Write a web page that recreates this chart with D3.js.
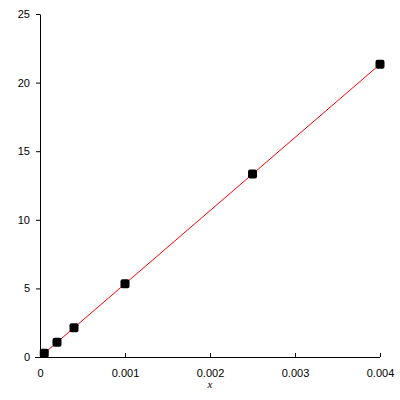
<!DOCTYPE html>
<html>
<head>
<meta charset="utf-8">
<script src="https://cdn.jsdelivr.net/npm/d3@7"></script>
<style>
  body { margin: 0; background: #fff; }
  text { font-family: "Liberation Sans", Arial, sans-serif; font-size: 11px; }
</style>
</head>
<body>
<div id="chart"></div>
<script>
// data points
var xValues = [0.00005, 0.0002, 0.0004, 0.001, 0.0025, 0.004];
var yValues = [0.267, 1.067, 2.133, 5.333, 13.333, 21.333];
// fitted line end points
var lineX = [0, 0.004];
var lineY = [0, 21.333];
var xTicks = [0, 0.001, 0.002, 0.003, 0.004];
var yTicks = [0, 5, 10, 15, 20, 25];

var width = 400, height = 400;

var svg = d3.select("#chart")
  .append("svg")
  .attr("width", width)
  .attr("height", height);

var x = d3.scaleLinear().domain([0, 0.004]).range([40, 380]);
var y = d3.scaleLinear().domain([0, 25]).range([357, 14]);

//x axis (ticks point up)
var xAxis = svg.append("g")
  .attr("transform", "translate(0," + y(0) + ")")
  .call(d3.axisBottom(x).tickValues(xTicks).tickSize(-4).tickSizeOuter(0)
    .tickFormat(function(d) { return d === 0 ? "0" : d3.format(".3f")(d); }));
xAxis.select(".domain").attr("d", "M35,0.5H380");
xAxis.selectAll("text").attr("y", 12).attr("fill", "#000");

//y axis
var yAxis = svg.append("g")
  .attr("transform", "translate(" + x(0) + ",0)")
  .call(d3.axisLeft(y).tickValues(yTicks).tickSize(4).tickSizeOuter(0));
yAxis.selectAll("text").attr("x", -10).attr("fill", "#000");

svg.selectAll(".domain, .tick line").attr("stroke", "#000");

//axis label
svg.append("text")
  .attr("x", (x(0) + x(0.004)) / 2)
  .attr("y", 388)
  .attr("text-anchor", "middle")
  .style("font-family", "'Liberation Serif', serif")
  .style("font-style", "italic")
  .text("x");

//fitted line
var pts = lineX.map(function(d, i) { return [d, lineY[i]]; });
svg.append("path")
  .datum(pts)
  .attr("fill", "none")
  .attr("stroke", "#ff0000")
  .attr("stroke-width", 1)
  .attr("d", d3.line()
    .x(function(d) { return x(d[0]); })
    .y(function(d) { return y(d[1]); }));

//points
svg.selectAll("rect.pt")
  .data(xValues)
  .enter()
  .append("rect")
  .attr("class", "pt")
  .attr("x", function(d) { return x(d) - 4.5; })
  .attr("y", function(d, i) { return y(yValues[i]) - 4.5; })
  .attr("width", 9)
  .attr("height", 9)
  .attr("rx", 2)
  .attr("fill", "#000");
</script>
</body>
</html>
